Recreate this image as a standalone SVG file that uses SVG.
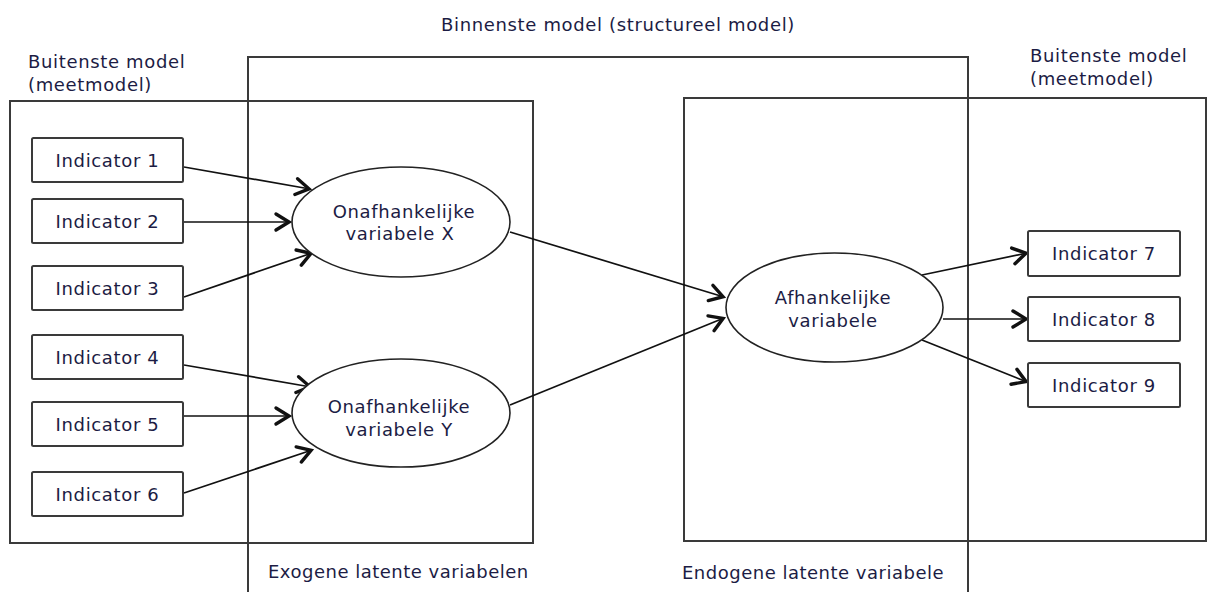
<svg xmlns="http://www.w3.org/2000/svg" width="1207" height="592" viewBox="0 0 1207 592">
<style>
.frame{fill:none;stroke:#3a3a3a;stroke-width:2}
.box{fill:#fff;stroke:#3a3a3a;stroke-width:2}
.ell{fill:#fff;stroke:#222;stroke-width:1.6}
.t{font-family:"DejaVu Sans",Verdana,sans-serif;font-size:18px;letter-spacing:0.65px;fill:#1c1c44}
.n{letter-spacing:0.5px}
.c{text-anchor:middle}
.con{fill:none;stroke:#111;stroke-width:1.7}
</style>
<defs>
<marker id="arr" markerUnits="userSpaceOnUse" viewBox="0 0 24 24" markerWidth="24" markerHeight="24" refX="20" refY="12" orient="auto">
<path d="M6,4 L19,12 L6,20" fill="none" stroke="#111" stroke-width="3.4" stroke-linecap="round" stroke-linejoin="miter"/>
</marker>
</defs>
<rect fill="#fff" width="1207" height="592"/>
<g id="frames">
<rect class="frame" x="10" y="101" width="523" height="442"/>
<path class="frame" d="M248,592 V57 H968 V592"/>
<rect class="frame" x="684" y="98" width="522" height="443"/>
</g>
<g id="labels">
<text class="t c" x="618" y="31">Binnenste model (structureel model)</text>
<text class="t" x="28" y="68">Buitenste model</text>
<text class="t" x="28" y="91">(meetmodel)</text>
<text class="t" x="1030" y="62">Buitenste model</text>
<text class="t" x="1030" y="85">(meetmodel)</text>
<text class="t n" x="268" y="578">Exogene latente variabelen</text>
<text class="t n" x="682" y="579">Endogene latente variabele</text>
</g>
<g id="connectors">
<line class="con" x1="184" y1="167" x2="310" y2="189" marker-end="url(#arr)"/>
<line class="con" x1="184" y1="222" x2="290" y2="222" marker-end="url(#arr)"/>
<line class="con" x1="184" y1="297" x2="312" y2="253" marker-end="url(#arr)"/>
<line class="con" x1="184" y1="365" x2="311" y2="387" marker-end="url(#arr)"/>
<line class="con" x1="184" y1="416" x2="290" y2="416" marker-end="url(#arr)"/>
<line class="con" x1="184" y1="493" x2="312" y2="450" marker-end="url(#arr)"/>
<line class="con" x1="510" y1="232" x2="724" y2="297" marker-end="url(#arr)"/>
<line class="con" x1="510" y1="405" x2="724" y2="318" marker-end="url(#arr)"/>
<line class="con" x1="922" y1="275" x2="1027" y2="253" marker-end="url(#arr)"/>
<line class="con" x1="943" y1="319" x2="1027" y2="319" marker-end="url(#arr)"/>
<line class="con" x1="922" y1="340" x2="1027" y2="382" marker-end="url(#arr)"/>
</g>
<g id="ind1"><rect class="box" x="32" y="138" width="151" height="44" rx="1.5"/><text class="t c" x="107.5" y="166.5">Indicator 1</text></g>
<g id="ind2"><rect class="box" x="32" y="199" width="151" height="44" rx="1.5"/><text class="t c" x="107.5" y="227.5">Indicator 2</text></g>
<g id="ind3"><rect class="box" x="32" y="266" width="151" height="44" rx="1.5"/><text class="t c" x="107.5" y="294.5">Indicator 3</text></g>
<g id="ind4"><rect class="box" x="32" y="335" width="151" height="44" rx="1.5"/><text class="t c" x="107.5" y="363.5">Indicator 4</text></g>
<g id="ind5"><rect class="box" x="32" y="402" width="151" height="44" rx="1.5"/><text class="t c" x="107.5" y="430.5">Indicator 5</text></g>
<g id="ind6"><rect class="box" x="32" y="472" width="151" height="44" rx="1.5"/><text class="t c" x="107.5" y="500.5">Indicator 6</text></g>
<g id="ind7"><rect class="box" x="1028" y="231" width="152" height="45" rx="1.5"/><text class="t c" x="1104" y="260">Indicator 7</text></g>
<g id="ind8"><rect class="box" x="1028" y="297" width="152" height="44" rx="1.5"/><text class="t c" x="1104" y="325.5">Indicator 8</text></g>
<g id="ind9"><rect class="box" x="1028" y="363" width="152" height="44" rx="1.5"/><text class="t c" x="1104" y="391.5">Indicator 9</text></g>
<g id="varX"><ellipse class="ell" cx="401" cy="222" rx="109" ry="55"/><text class="t c" x="404" y="218">Onafhankelijke</text><text class="t c" x="400" y="240">variabele X</text></g>
<g id="varY"><ellipse class="ell" cx="401" cy="413" rx="109" ry="54"/><text class="t c" x="399" y="413">Onafhankelijke</text><text class="t c" x="399" y="436">variabele Y</text></g>
<g id="afh"><ellipse class="ell" cx="834.5" cy="307.5" rx="108.5" ry="54.5"/><text class="t c" x="833" y="304">Afhankelijke</text><text class="t c" x="833" y="327">variabele</text></g>
</svg>
